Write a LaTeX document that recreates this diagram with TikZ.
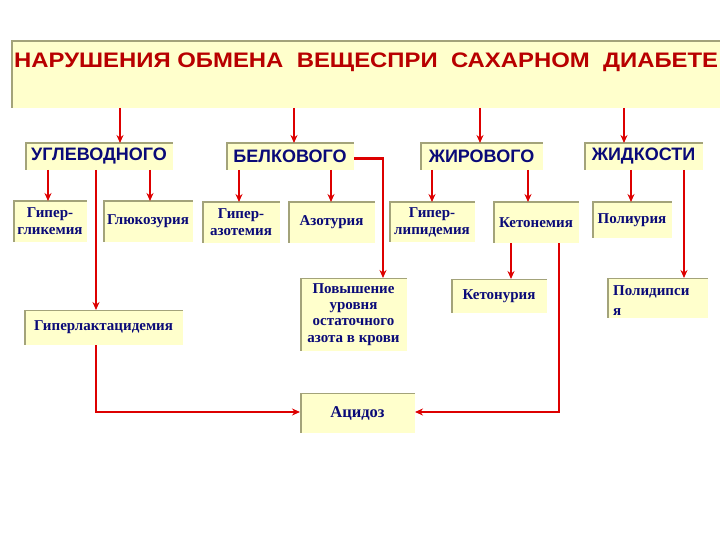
\documentclass[tikz,border=0pt]{standalone}
\usepackage{fontspec}
\usepackage{graphicx}
\setmainfont{Liberation Serif}
\setsansfont{Liberation Sans}
\usetikzlibrary{arrows.meta}
\definecolor{boxfill}{HTML}{FFFFCC}
\definecolor{bevel}{HTML}{A3A37A}
\definecolor{navy}{HTML}{0A0A78}
\definecolor{linered}{HTML}{DD0000}
\definecolor{titlered}{HTML}{B80000}
\tikzset{
  bx/.style={fill=boxfill, inner sep=1pt, outer sep=0pt, text=navy,
    path picture={
      \draw[bevel,line width=3.5pt] (path picture bounding box.south west) -- (path picture bounding box.north west);
      \draw[bevel,line width=2.5pt] (path picture bounding box.north west) -- (path picture bounding box.north east);}},
  head/.style={bx, font=\sffamily\bfseries\fontsize{18}{20}\selectfont},
  leaf/.style={bx, align=center, font=\bfseries\fontsize{15}{17}\selectfont},
  arr/.style={draw=linered, line width=2.3pt, -{Stealth[length=8pt,width=7pt]}},
}
\begin{document}
\begin{tikzpicture}[x=1pt,y=-1pt]
\useasboundingbox (0,0) rectangle (720,540);
\fill[white] (0,0) rectangle (720,540);

% title
\node[bx, minimum width=711pt, minimum height=67pt] (title) at (366.5,74.5) {};
\node[anchor=base west, inner sep=0pt, text=titlered, font=\sffamily\bfseries\fontsize{21}{24}\selectfont] (titletext) at (14,67.5)
  {\resizebox{704pt}{\height}{НАРУШЕНИЯ ОБМЕНА\ \ ВЕЩЕСПРИ\ \ САХАРНОМ\ \ ДИАБЕТЕ}};

% headings
\node[head, minimum width=148pt, minimum height=27pt] (ugl) at (99,156.5) {УГЛЕВОДНОГО};
\node[head, minimum width=128pt, minimum height=27pt] (belk) at (290,156.5) {БЕЛКОВОГО};
\node[head, minimum width=123pt, minimum height=27pt] (zhir) at (481.5,156.5) {ЖИРОВОГО};
\node[head, minimum width=119pt, minimum height=27pt] (zhid) at (643.5,156.5) {ЖИДКОСТИ};

% row 2
\node[leaf, minimum width=74pt, minimum height=41pt] (glik) at (50,221.5) {Гипер-\\гликемия};
\node[leaf, minimum width=90pt, minimum height=41pt] (gluk) at (148,221.5) {Глюкозурия};
\node[leaf, minimum width=78pt, minimum height=41pt] (azotem) at (241,222.5) {Гипер-\\азотемия};
\node[leaf, minimum width=87pt, minimum height=41pt] (azotur) at (331.5,222.5) {Азотурия};
\node[leaf, minimum width=86pt, minimum height=40pt] (lipid) at (432,222) {Гипер-\\липидемия};
\node[leaf, minimum width=86pt, minimum height=41pt] (ketonem) at (536,222.5) {Кетонемия};
\node[leaf, minimum width=80pt, minimum height=36pt] (poliur) at (632,220) {Полиурия};

% row 3
\node[leaf, minimum width=159pt, minimum height=35pt] (laktat) at (103.5,327.5) {Гиперлактацидемия};
\node[leaf, minimum width=107pt, minimum height=73pt, font=\bfseries\fontsize{15}{16.3}\selectfont] (povysh) at (353.5,314.5) {Повышение\\уровня\\остаточного\\азота в крови};
\node[leaf, minimum width=96pt, minimum height=34pt] (ketonur) at (499,296) {Кетонурия};
\node[bx, minimum width=101pt, minimum height=40pt] (polidips) at (657.5,298) {};
\node[anchor=north west, inner sep=0pt, align=left, text=navy, font=\bfseries\fontsize{15}{20}\selectfont] (polidipsT) at ([xshift=6pt,yshift=-7pt]polidips.north west) {Полидипси\\я};
\node[leaf, minimum width=115pt, minimum height=40pt, font=\bfseries\fontsize{16.5}{19}\selectfont] (acidoz) at (357.5,413) {Ацидоз};

% x helpers
\coordinate (x120) at (120,0);
\coordinate (x294) at (294,0);
\coordinate (x480) at (480,0);
\coordinate (x624) at (624,0);
\coordinate (x48) at (48,0);
\coordinate (x150) at (150,0);
\coordinate (x239) at (239,0);
\coordinate (x331) at (331,0);
\coordinate (x432) at (432,0);
\coordinate (x528) at (528,0);
\coordinate (x631) at (631,0);
\coordinate (x96) at (96,0);
\coordinate (x383) at (383,0);
\coordinate (x511) at (511,0);
\coordinate (x559) at (559,0);
\coordinate (x684) at (684,0);

% connectors
\draw[arr] (title.south -| x120) -- (ugl.north -| x120);
\draw[arr] (title.south -| x294) -- (belk.north -| x294);
\draw[arr] (title.south -| x480) -- (zhir.north -| x480);
\draw[arr] (title.south -| x624) -- (zhid.north -| x624);

\draw[arr] (ugl.south -| x48) -- (glik.north -| x48);
\draw[arr] (ugl.south -| x150) -- (gluk.north -| x150);
\draw[arr] (belk.south -| x239) -- (azotem.north -| x239);
\draw[arr] (belk.south -| x331) -- (azotur.north -| x331);
\draw[arr] (zhir.south -| x432) -- (lipid.north -| x432);
\draw[arr] (zhir.south -| x528) -- (ketonem.north -| x528);
\draw[arr] (zhid.south -| x631) -- (poliur.north -| x631);

\draw[arr] (ugl.south -| x96) -- (laktat.north -| x96);
\draw[arr] ([yshift=-2pt]belk.east) -| (povysh.north -| x383);
\draw[arr] (ketonem.south -| x511) -- (ketonur.north -| x511);
\draw[arr] (zhid.south -| x684) -- (polidips.north -| x684);
\draw[arr] (laktat.south -| x96) |- ([yshift=1pt]acidoz.west);
\draw[arr] (ketonem.south -| x559) |- ([yshift=1pt]acidoz.east);
\end{tikzpicture}
\end{document}
